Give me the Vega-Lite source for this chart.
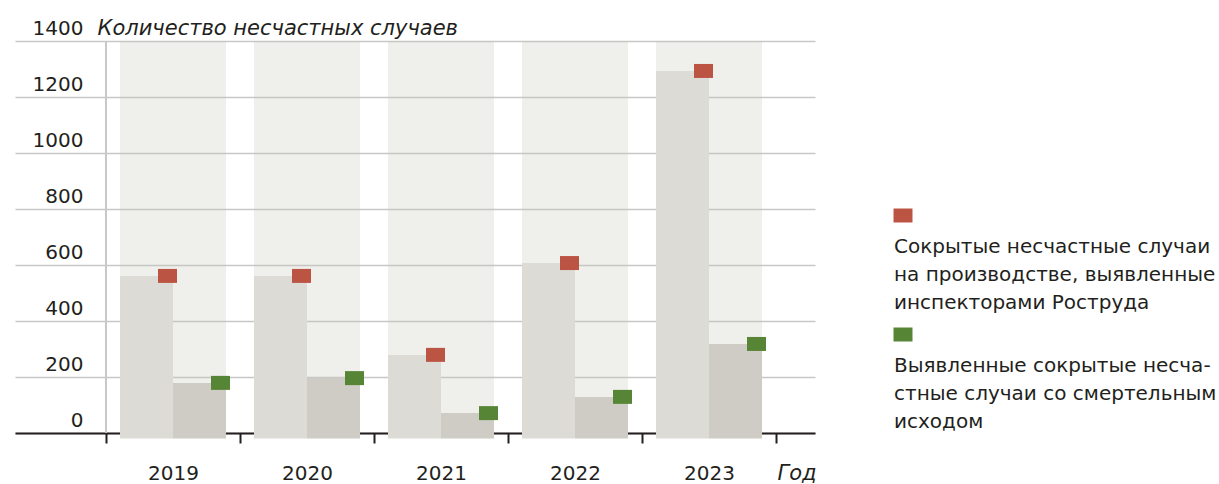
{
  "$schema": "https://vega.github.io/schema/vega-lite/v6.json",
  "width": 800,
  "height": 392,
  "autosize": {"type": "none"},
  "padding": {"left": 15, "top": 41, "right": 404, "bottom": 51},
  "background": "white",
  "config": {
    "view": {"stroke": null},
    "font": "DejaVu Sans",
    "axis": {
      "labelFont": "DejaVu Sans", "labelFontSize": 20, "labelColor": "#231f20",
      "titleFont": "DejaVu Sans", "titleFontSize": 21, "titleFontWeight": "normal",
      "titleFontStyle": "italic", "titleColor": "#231f20"
    }
  },
  "data": {
    "values": [
      {"year": "2019", "series": "hidden", "value": 561},
      {"year": "2019", "series": "fatal", "value": 179},
      {"year": "2020", "series": "hidden", "value": 561},
      {"year": "2020", "series": "fatal", "value": 196},
      {"year": "2021", "series": "hidden", "value": 279},
      {"year": "2021", "series": "fatal", "value": 71},
      {"year": "2022", "series": "hidden", "value": 607},
      {"year": "2022", "series": "fatal", "value": 129},
      {"year": "2023", "series": "hidden", "value": 1293},
      {"year": "2023", "series": "fatal", "value": 318}
    ]
  },
  "encoding": {
    "x": {
      "field": "year", "type": "nominal",
      "scale": {"paddingInner": 0, "paddingOuter": 0.4851, "align": 0.7},
      "axis": {
        "title": "Год", "titleX": 762, "titleY": 46, "titleAlign": "left",
        "titleBaseline": "alphabetic", "titleAngle": 0,
        "labelAngle": 0, "labelBaseline": "alphabetic", "labelPadding": 36,
        "tickSize": 10, "tickWidth": 2, "tickColor": "#231f20",
        "domainColor": "#231f20", "domainWidth": 2, "tickBand": "extent", "grid": false
      }
    },
    "xOffset": {"field": "series", "type": "nominal", "scale": {"domain": ["hidden", "fatal"], "paddingInner": 0, "paddingOuter": 0.264}}
  },
  "layer": [
    {
      "transform": [{"filter": "datum.series == 'hidden'"}],
      "mark": {"type": "bar", "width": {"band": 0.791}, "fill": "#bfbfaf", "fillOpacity": 0.25},
      "encoding": {
        "xOffset": null,
        "y": {"datum": 1400, "type": "quantitative"},
        "y2": {"datum": 0}
      }
    },
    {
      "mark": {"type": "rule", "color": "#c8c8c8", "strokeWidth": 1.5},
      "encoding": {
        "x": {"datum": "2019", "type": "nominal", "bandPosition": 0},
        "xOffset": null,
        "y": {"datum": 1400, "type": "quantitative"},
        "y2": {"datum": 0}
      }
    },
    {
      "transform": [{"filter": "datum.series == 'hidden'"}],
      "mark": {"type": "bar", "fill": "#dcdbd6"},
      "encoding": {
        "y": {
          "field": "value", "type": "quantitative",
          "scale": {"domain": [0, 1400], "nice": false},
          "axis": {
            "title": "Количество несчастных случаев",
            "titleAngle": 0, "titleAlign": "left", "titleBaseline": "alphabetic",
            "titleX": 82, "titleY": -7,
            "values": [0, 200, 400, 600, 800, 1000, 1200, 1400], "format": "d",
            "grid": true, "gridColor": "#c8c8c8", "gridWidth": 1.5,
            "domain": false, "ticks": false, "tickSize": 0,
            "labelPadding": -68, "labelBaseline": "alphabetic", "labelOffset": -7,
            "labelFlush": false, "labelOverlap": false
          }
        },
        "y2": {"datum": -20}
      }
    },
    {
      "transform": [{"filter": "datum.series == 'fatal'"}],
      "mark": {"type": "bar", "fill": "#cfccc5"},
      "encoding": {
        "y": {"field": "value", "type": "quantitative"},
        "y2": {"datum": -20}
      }
    },
    {
      "mark": {"type": "point", "filled": true, "opacity": 1, "strokeWidth": 0, "size": 361,
        "shape": "M1.2105,-0.7368L3.2105,-0.7368L3.2105,0.7368L1.2105,0.7368Z"},
      "encoding": {
        "y": {"field": "value", "type": "quantitative"},
        "color": {
          "field": "series", "type": "nominal",
          "scale": {"domain": ["hidden", "fatal"], "range": ["#bc5444", "#568535"]},
          "legend": {
            "orient": "none", "legendX": 878, "legendY": 164.5, "title": null,
            "symbolType": "M-1,-0.7368L1,-0.7368L1,0.7368L-1,0.7368Z",
            "symbolSize": 361, "symbolStrokeWidth": 0, "symbolOpacity": 1,
            "labelOffset": -19, "labelFont": "DejaVu Sans", "labelFontSize": 20, "labelLimit": 0,
            "labelBaseline": "alphabetic", "labelColor": "#231f20",
            "rowPadding": 12,
            "labelExpr": "datum.value == 'hidden' ? ['Сокрытые несчастные случаи', 'на производстве, выявленные', 'инспекторами Роструда'] : ['Выявленные сокрытые несча-', 'стные случаи со смертельным', 'исходом']",
            "encode": {"labels": {"update": {"dy": {"value": 37}, "lineHeight": {"value": 28}}}}
          }
        }
      }
    }
  ]
}
